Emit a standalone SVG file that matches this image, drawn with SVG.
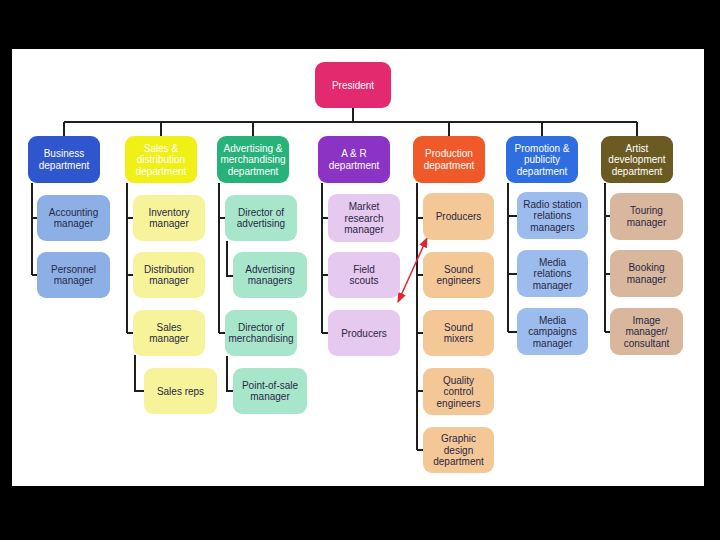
<svg xmlns="http://www.w3.org/2000/svg" width="720" height="540" viewBox="0 0 720 540">
<defs>
<style>
.ln{fill:none;stroke:#1e1e1e;stroke-width:2}
.bx{rx:9;ry:9}
.dt{font-family:"Liberation Sans","Noto Sans",sans-serif;font-size:10px;fill:#ffffff;text-anchor:middle}
.ct{font-family:"Liberation Sans","Noto Sans",sans-serif;font-size:10px;fill:#2a2845;text-anchor:middle}
.ar{fill:none;stroke:#e0262e;stroke-width:1.5}
</style>
<marker id="ah" viewBox="0 0 10 10" refX="9" refY="5" markerWidth="7" markerHeight="7" orient="auto-start-reverse">
<path d="M0,1 L10,5 L0,9 Z" fill="#e0262e"/>
</marker>
</defs>
<rect x="0" y="0" width="720" height="540" fill="#000"/>
<rect x="12" y="49" width="692" height="437" fill="#fff"/>

<g id="connectors">
<path class="ln" d="M353,108 V122 M64,122 H637 M64,122 V136 M161,122 V136 M253,122 V136 M449,122 V136 M542,122 V136 M637,122 V136"/>
<path class="ln" d="M32,183 V275 M32,218 H37 M32,275 H37"/>
<path class="ln" d="M127,183 V333 M127,218 H133 M127,275 H133 M127,333 H133 M135,355 V391 H144"/>
<path class="ln" d="M219,183 V333 M219,218 H225 M219,333 H225 M227,241 V276 H233 M227,356 V391 H233"/>
<path class="ln" d="M322,183 V333 M322,218 H328 M322,275 H328 M322,333 H328"/>
<path class="ln" d="M417,183 V450 M417,218 H423 M417,275 H423 M417,333 H423 M417,391 H423 M417,450 H423"/>
<path class="ln" d="M508,183 V332 M508,216 H517 M508,274 H517 M508,332 H517"/>
<path class="ln" d="M605,183 V332 M605,216 H610 M605,274 H610 M605,332 H610"/>
<path class="ar" d="M427,238 L398,302" marker-start="url(#ah)" marker-end="url(#ah)"/>
</g>

<g id="president"><rect class="bx" x="315" y="62" width="76" height="46" fill="#e42a6e"/><text class="dt" x="353" y="88.5">President</text></g>

<g id="business-dept"><rect class="bx" x="28" y="136" width="72" height="47" fill="#2f56cc"/><text class="dt" x="64" y="157.2">Business</text><text class="dt" x="64" y="168.8">department</text></g>
<g id="sales-dept"><rect class="bx" x="125" y="136" width="72" height="47" fill="#f0f016"/><text class="dt" x="161" y="151.5">Sales &amp;</text><text class="dt" x="161" y="163">distribution</text><text class="dt" x="161" y="174.5">department</text></g>
<g id="adv-dept"><rect class="bx" x="217" y="136" width="72" height="47" fill="#27b27a"/><text class="dt" x="253" y="151.5">Advertising &amp;</text><text class="dt" x="253" y="163">merchandising</text><text class="dt" x="253" y="174.5">department</text></g>
<g id="ar-dept"><rect class="bx" x="318" y="136" width="72" height="47" fill="#8a33c4"/><text class="dt" x="354" y="157.2">A &amp; R</text><text class="dt" x="354" y="168.8">department</text></g>
<g id="production-dept"><rect class="bx" x="413" y="136" width="72" height="47" fill="#f05a2a"/><text class="dt" x="449" y="157.2">Production</text><text class="dt" x="449" y="168.8">department</text></g>
<g id="promotion-dept"><rect class="bx" x="506" y="136" width="72" height="47" fill="#2f6ee0"/><text class="dt" x="542" y="151.5">Promotion &amp;</text><text class="dt" x="542" y="163">publicity</text><text class="dt" x="542" y="174.5">department</text></g>
<g id="artist-dept"><rect class="bx" x="601" y="136" width="72" height="47" fill="#6b5a22"/><text class="dt" x="637" y="151.5">Artist</text><text class="dt" x="637" y="163">development</text><text class="dt" x="637" y="174.5">department</text></g>

<g id="accounting"><rect class="bx" x="37" y="195" width="73" height="46" fill="#8cb0e6"/><text class="ct" x="73.5" y="215.7">Accounting</text><text class="ct" x="73.5" y="227.3">manager</text></g>
<g id="personnel"><rect class="bx" x="37" y="252" width="73" height="46" fill="#8cb0e6"/><text class="ct" x="73.5" y="272.7">Personnel</text><text class="ct" x="73.5" y="284.3">manager</text></g>

<g id="inventory"><rect class="bx" x="133" y="195" width="72" height="46" fill="#f6f39a"/><text class="ct" x="169" y="215.7">Inventory</text><text class="ct" x="169" y="227.3">manager</text></g>
<g id="distribution"><rect class="bx" x="133" y="252" width="72" height="46" fill="#f6f39a"/><text class="ct" x="169" y="272.7">Distribution</text><text class="ct" x="169" y="284.3">manager</text></g>
<g id="sales-manager"><rect class="bx" x="133" y="310" width="72" height="46" fill="#f6f39a"/><text class="ct" x="169" y="330.7">Sales</text><text class="ct" x="169" y="342.3">manager</text></g>
<g id="sales-reps"><rect class="bx" x="144" y="368" width="73" height="46" fill="#f6f39a"/><text class="ct" x="180.5" y="394.5">Sales reps</text></g>

<g id="dir-advertising"><rect class="bx" x="225" y="195" width="72" height="46" fill="#a8e6cc"/><text class="ct" x="261" y="215.7">Director of</text><text class="ct" x="261" y="227.3">advertising</text></g>
<g id="adv-managers"><rect class="bx" x="233" y="252" width="74" height="46" fill="#a8e6cc"/><text class="ct" x="270" y="272.7">Advertising</text><text class="ct" x="270" y="284.3">managers</text></g>
<g id="dir-merch"><rect class="bx" x="225" y="310" width="72" height="46" fill="#a8e6cc"/><text class="ct" x="261" y="330.7">Director of</text><text class="ct" x="261" y="342.3">merchandising</text></g>
<g id="pos-manager"><rect class="bx" x="233" y="368" width="74" height="46" fill="#a8e6cc"/><text class="ct" x="270" y="388.7">Point-of-sale</text><text class="ct" x="270" y="400.3">manager</text></g>

<g id="market-research"><rect class="bx" x="328" y="194" width="72" height="48" fill="#e6c9ee"/><text class="ct" x="364" y="210">Market</text><text class="ct" x="364" y="221.5">research</text><text class="ct" x="364" y="233">manager</text></g>
<g id="field-scouts"><rect class="bx" x="328" y="252" width="72" height="46" fill="#e6c9ee"/><text class="ct" x="364" y="272.7">Field</text><text class="ct" x="364" y="284.3">scouts</text></g>
<g id="ar-producers"><rect class="bx" x="328" y="310" width="72" height="46" fill="#e6c9ee"/><text class="ct" x="364" y="336.5">Producers</text></g>

<g id="producers"><rect class="bx" x="423" y="193" width="71" height="47" fill="#f4c797"/><text class="ct" x="458.5" y="220">Producers</text></g>
<g id="sound-engineers"><rect class="bx" x="423" y="252" width="71" height="46" fill="#f4c797"/><text class="ct" x="458.5" y="272.7">Sound</text><text class="ct" x="458.5" y="284.3">engineers</text></g>
<g id="sound-mixers"><rect class="bx" x="423" y="310" width="71" height="46" fill="#f4c797"/><text class="ct" x="458.5" y="330.7">Sound</text><text class="ct" x="458.5" y="342.3">mixers</text></g>
<g id="quality-control"><rect class="bx" x="423" y="368" width="71" height="47" fill="#f4c797"/><text class="ct" x="458.5" y="383.5">Quality</text><text class="ct" x="458.5" y="395">control</text><text class="ct" x="458.5" y="406.5">engineers</text></g>
<g id="graphic-design"><rect class="bx" x="423" y="427" width="71" height="46" fill="#f4c797"/><text class="ct" x="458.5" y="442">Graphic</text><text class="ct" x="458.5" y="453.5">design</text><text class="ct" x="458.5" y="465">department</text></g>

<g id="radio-station"><rect class="bx" x="517" y="192" width="71" height="47" fill="#9bbcec"/><text class="ct" x="552.5" y="207.5">Radio station</text><text class="ct" x="552.5" y="219">relations</text><text class="ct" x="552.5" y="230.5">managers</text></g>
<g id="media-relations"><rect class="bx" x="517" y="250" width="71" height="47" fill="#9bbcec"/><text class="ct" x="552.5" y="265.5">Media</text><text class="ct" x="552.5" y="277">relations</text><text class="ct" x="552.5" y="288.5">manager</text></g>
<g id="media-campaigns"><rect class="bx" x="517" y="308" width="71" height="47" fill="#9bbcec"/><text class="ct" x="552.5" y="323.5">Media</text><text class="ct" x="552.5" y="335">campaigns</text><text class="ct" x="552.5" y="346.5">manager</text></g>

<g id="touring"><rect class="bx" x="610" y="193" width="73" height="47" fill="#d9b79d"/><text class="ct" x="646.5" y="214.2">Touring</text><text class="ct" x="646.5" y="225.8">manager</text></g>
<g id="booking"><rect class="bx" x="610" y="250" width="73" height="47" fill="#d9b79d"/><text class="ct" x="646.5" y="271.2">Booking</text><text class="ct" x="646.5" y="282.8">manager</text></g>
<g id="image-manager"><rect class="bx" x="610" y="308" width="73" height="47" fill="#d9b79d"/><text class="ct" x="646.5" y="323.5">Image</text><text class="ct" x="646.5" y="335">manager/</text><text class="ct" x="646.5" y="346.5">consultant</text></g>
</svg>
